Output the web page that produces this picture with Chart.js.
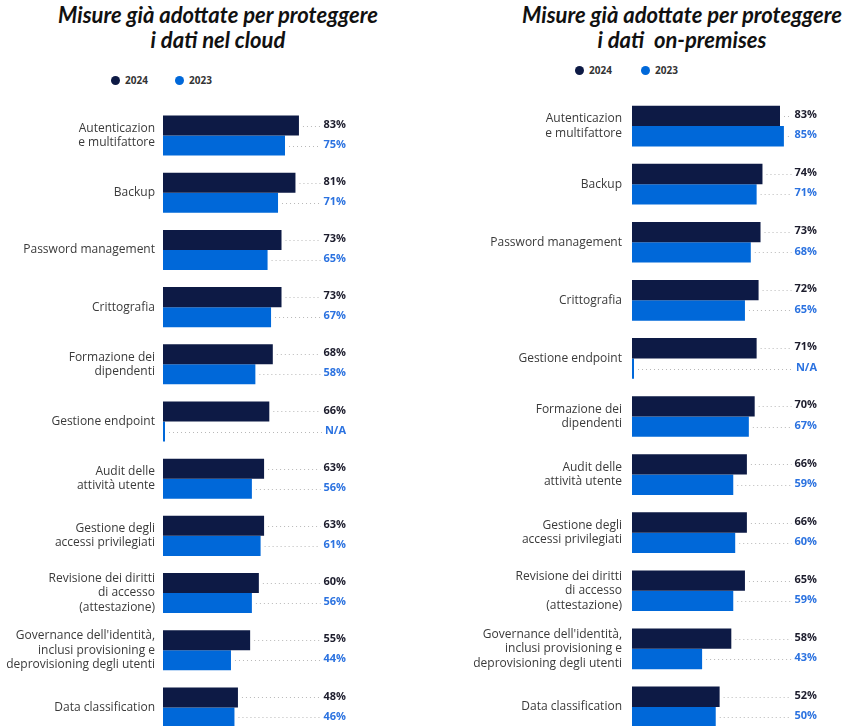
<!DOCTYPE html>
<html>
<head>
<meta charset="utf-8">
<script src="https://cdn.jsdelivr.net/npm/chart.js@4.4.0/dist/chart.umd.min.js"></script>
<style>
  html, body { margin: 0; padding: 0; background: #fff; overflow: hidden; }
  body { width: 846px; height: 726px; position: relative; font-family: 'Open Sans', sans-serif; }
  .title { position: absolute; top: 2px; width: 420px; text-align: center; font-family: Lato, sans-serif;
           font-style: italic; font-weight: 700; font-size: 22px; line-height: 25px; color: #111; white-space: pre; }
  .legend-item { position: absolute; font-weight: 700; font-size: 10px; color: #333; line-height: 12px; }
  .legend-item span { display: inline-block; width: 9px; height: 9px; border-radius: 50%; margin-right: 5px; vertical-align: -1px; }
  .box { position: absolute; top: 0; width: 423px; height: 740px; }
</style>
</head>
<body>
<div class="title" style="left:8px">Misure già adottate per proteggere
i dati nel cloud</div>
<div class="title" style="left:472px">Misure già adottate per proteggere
i dati  on-premises</div>

<div class="legend-item" style="left:111px;top:74px"><span style="background:#0d1a45"></span>2024</div>
<div class="legend-item" style="left:175px;top:74px"><span style="background:#0068d9"></span>2023</div>
<div class="legend-item" style="left:575px;top:64px"><span style="background:#0d1a45"></span>2024</div>
<div class="legend-item" style="left:641px;top:64px"><span style="background:#0068d9"></span>2023</div>

<div class="box" style="left:0"><canvas id="cloudChart"></canvas></div>
<div class="box" style="left:423px"><canvas id="premChart"></canvas></div>

<script>
// Data: cloud
const cloudCategories = [
  ['Autenticazion', 'e multifattore'], 'Backup', 'Password management', 'Crittografia',
  ['Formazione dei', 'dipendenti'], 'Gestione endpoint', ['Audit delle', 'attività utente'],
  ['Gestione degli', 'accessi privilegiati'], ['Revisione dei diritti', 'di accesso', '(attestazione)'],
  ["Governance dell'identità,", 'inclusi provisioning e', 'deprovisioning degli utenti'], 'Data classification'
];
const cloud2024 = [83, 81, 73, 73, 68, 66, 63, 63, 60, 55, 48];
const cloud2023 = [75, 71, 65, 67, 58, null, 56, 61, 56, 44, 46];

// Data: on-premises
const premCategories = [
  ['Autenticazion', 'e multifattore'], 'Backup', 'Password management', 'Crittografia',
  'Gestione endpoint', ['Formazione dei', 'dipendenti'], ['Audit delle', 'attività utente'],
  ['Gestione degli', 'accessi privilegiati'], ['Revisione dei diritti', 'di accesso', '(attestazione)'],
  ["Governance dell'identità,", 'inclusi provisioning e', 'deprovisioning degli utenti'], 'Data classification'
];
const prem2024 = [83, 74, 73, 72, 71, 70, 66, 66, 65, 58, 52];
const prem2023 = [85, 71, 68, 65, null, 67, 59, 60, 59, 43, 50];

const seriesLabels = ['2024', '2023'];

// Colors
const navy = '#0d1a45';
const blue = '#0068d9';

// Draw value labels and dotted leader lines
const valueLabels = {
  id: 'valueLabels',
  afterDatasetsDraw(chart) {
    const ctx = chart.ctx;
    const right = chart.chartArea.right;
    chart.data.datasets.forEach((ds, i) => {
      const meta = chart.getDatasetMeta(i);
      meta.data.forEach((bar, j) => {
        const raw = ds.source[j];
        const text = raw === null ? 'N/A' : raw + '%';
        ctx.save();
        ctx.font = 'bold 11px "Open Sans"';
        const w = ctx.measureText(text).width;
        const y = Math.round(bar.y) + 0.5;
        ctx.strokeStyle = '#b8b8b8';
        ctx.lineWidth = 1;
        ctx.setLineDash([1, 3]);
        ctx.beginPath();
        ctx.moveTo(bar.x + 4, y);
        ctx.lineTo(right - w - 3, y);
        ctx.stroke();
        ctx.setLineDash([]);
        ctx.fillStyle = ds.labelColor;
        ctx.textAlign = 'right';
        ctx.textBaseline = 'middle';
        ctx.fillText(text, right, bar.y - 1);
        ctx.restore();
      });
    });
  }
};

function makeChart(id, categories, values2024, values2023, cfg) {
  const canvas = document.getElementById(id);
  canvas.width = 423;
  canvas.height = 740;
  return new Chart(canvas, {
    type: 'bar',
    data: {
      labels: categories,
      datasets: [
        { label: seriesLabels[0], data: values2024.map(v => v === null ? cfg.xMin : v), source: values2024,
          backgroundColor: navy, labelColor: '#1c1c2c' },
        { label: seriesLabels[1], data: values2023.map(v => v === null ? cfg.xMin : v), source: values2023,
          backgroundColor: blue, labelColor: '#2b72e0' }
      ]
    },
    options: {
      responsive: false,
      animation: false,
      indexAxis: 'y',
      events: [],
      layout: { padding: { top: cfg.padTop, right: cfg.padRight, bottom: 4, left: 0 } },
      datasets: { bar: { categoryPercentage: 0.7, barPercentage: 1.0, minBarLength: 2, clip: false, base: cfg.xMin } },
      plugins: { legend: { display: false }, tooltip: { enabled: false } },
      scales: {
        x: { display: false, min: cfg.xMin, max: cfg.xMax },
        y: {
          grid: { display: false, drawTicks: false },
          border: { display: false },
          ticks: {
            padding: cfg.tickPad,
            color: '#3a3a3a',
            font: { family: 'Open Sans', size: 12, lineHeight: 1.2 }
          },
          afterFit(scale) {
            scale.width = cfg.axisWidth;
            scale.paddingTop = 0;
            scale.paddingBottom = 0;
          }
        }
      }
    },
    plugins: [valueLabels]
  });
}

makeChart('cloudChart', cloudCategories, cloud2024, cloud2023,
  { xMin: 5, xMax: 110, axisWidth: 163, padTop: 107, padRight: 77, tickPad: 8 });
makeChart('premChart', premCategories, prem2024, prem2023,
  { xMin: 7, xMax: 102, axisWidth: 209, padTop: 97, padRight: 29, tickPad: 10 });
</script>
</body>
</html>
